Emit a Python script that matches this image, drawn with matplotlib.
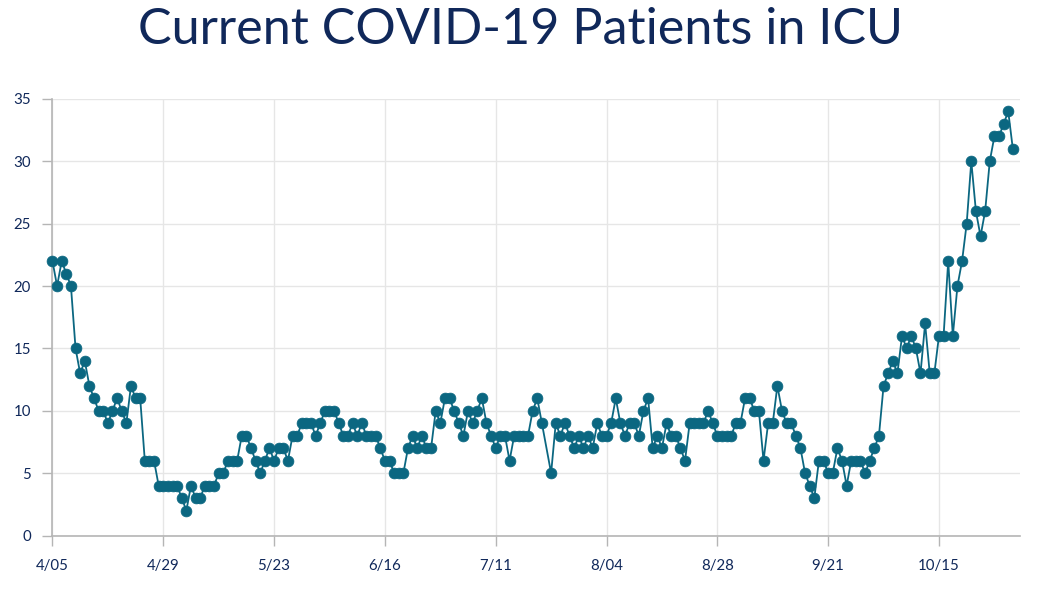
import numpy as np
import matplotlib
matplotlib.use("Agg")
import matplotlib.pyplot as plt

# ---- data ----
title = "Current COVID-19 Patients in ICU"
tick_labels = ["4/05", "4/29", "5/23", "6/16", "7/11", "8/04", "8/28", "9/21", "10/15"]
y_ticks = [0, 5, 10, 15, 20, 25, 30, 35]
icu_patients = [
    22, 20, 22, 21, 20, 15, 13, 14, 12, 11,
    10, 10, 9, 10, 11, 10, 9, 12, 11, 11,
    6, 6, 6, 4, 4, 4, 4, 4, 3, 2,
    4, 3, 3, 4, 4, 4, 5, 5, 6, 6,
    6, 8, 8, 7, 6, 5, 6, 7, 6, 7,
    7, 6, 8, 8, 9, 9, 9, 8, 9, 10,
    10, 10, 9, 8, 8, 9, 8, 9, 8, 8,
    8, 7, 6, 6, 5, 5, 5, 7, 8, 7,
    8, 7, 7, 10, 9, 11, 11, 10, 9, 8,
    10, 9, 10, 11, 9, 8, 7, 8, 8, 6,
    8, 8, 8, 8, 10, 11, 9, None, 5, 9,
    8, 9, 8, 7, 8, 7, 8, 7, 9, 8,
    8, 9, 11, 9, 8, 9, 9, 8, 10, 11,
    7, 8, 7, 9, 8, 8, 7, 6, 9, 9,
    9, 9, 10, 9, 8, 8, 8, 8, 9, 9,
    11, 11, 10, 10, 6, 9, 9, 12, 10, 9,
    9, 8, 7, 5, 4, 3, 6, 6, 5, 5,
    7, 6, 4, 6, 6, 6, 5, 6, 7, 8,
    12, 13, 14, 13, 16, 15, 16, 15, 13, 17,
    13, 13, 16, 16, 22, 16, 20, 22, 25, 30,
    26, 24, 26, 30, 32, 32, 33, 34, 31,
]

# ---- styling ----
plt.rcParams["font.family"] = ["Lato", "DejaVu Sans"]
navy = "#10285a"
teal = "#0b6781"
grid_c = "#e6e6e6"
axis_c = "#b5b5b5"

vals = np.array([np.nan if v is None else v for v in icu_patients], dtype=float)
idx = np.arange(len(vals))
ok = np.isfinite(vals)

fig = plt.figure(figsize=(10.41, 5.92), dpi=100)
ax = fig.add_axes([52 / 1041, 1 - 535.5 / 592, (1020 - 52) / 1041, (535.5 - 99) / 592])

ax.plot(idx[ok], vals[ok], color=teal, lw=1.3, marker="o", ms=7.8,
        markerfacecolor=teal, markeredgecolor=teal, markeredgewidth=0.5,
        zorder=3, clip_on=False)

ax.set_ylim(0, 35)
ax.set_xlim(-0.1, 209.55)
ax.set_yticks(y_ticks)
ax.set_yticklabels([str(t) for t in y_ticks])
ax.set_xticks(idx[::24][:len(tick_labels)])
ax.set_xticklabels(tick_labels)

ax.grid(True, color=grid_c, lw=1, zorder=0)
ax.set_axisbelow(True)
for s in ["top", "right"]:
    ax.spines[s].set_visible(False)
for s in ["left", "bottom"]:
    ax.spines[s].set_color(axis_c)
    ax.spines[s].set_linewidth(1.2)

ax.tick_params(axis="y", length=7, width=1, color=axis_c, labelcolor=navy,
               labelsize=10.8, pad=8)
ax.tick_params(axis="x", length=7, width=1, color=axis_c, labelcolor=navy,
               labelsize=10.8, pad=10)

fig.text(0.5, 1 - 30 / 592, title, ha="center", va="center",
         fontsize=36.3, color=navy, fontweight="normal")

fig.savefig("out.png", dpi=100)
